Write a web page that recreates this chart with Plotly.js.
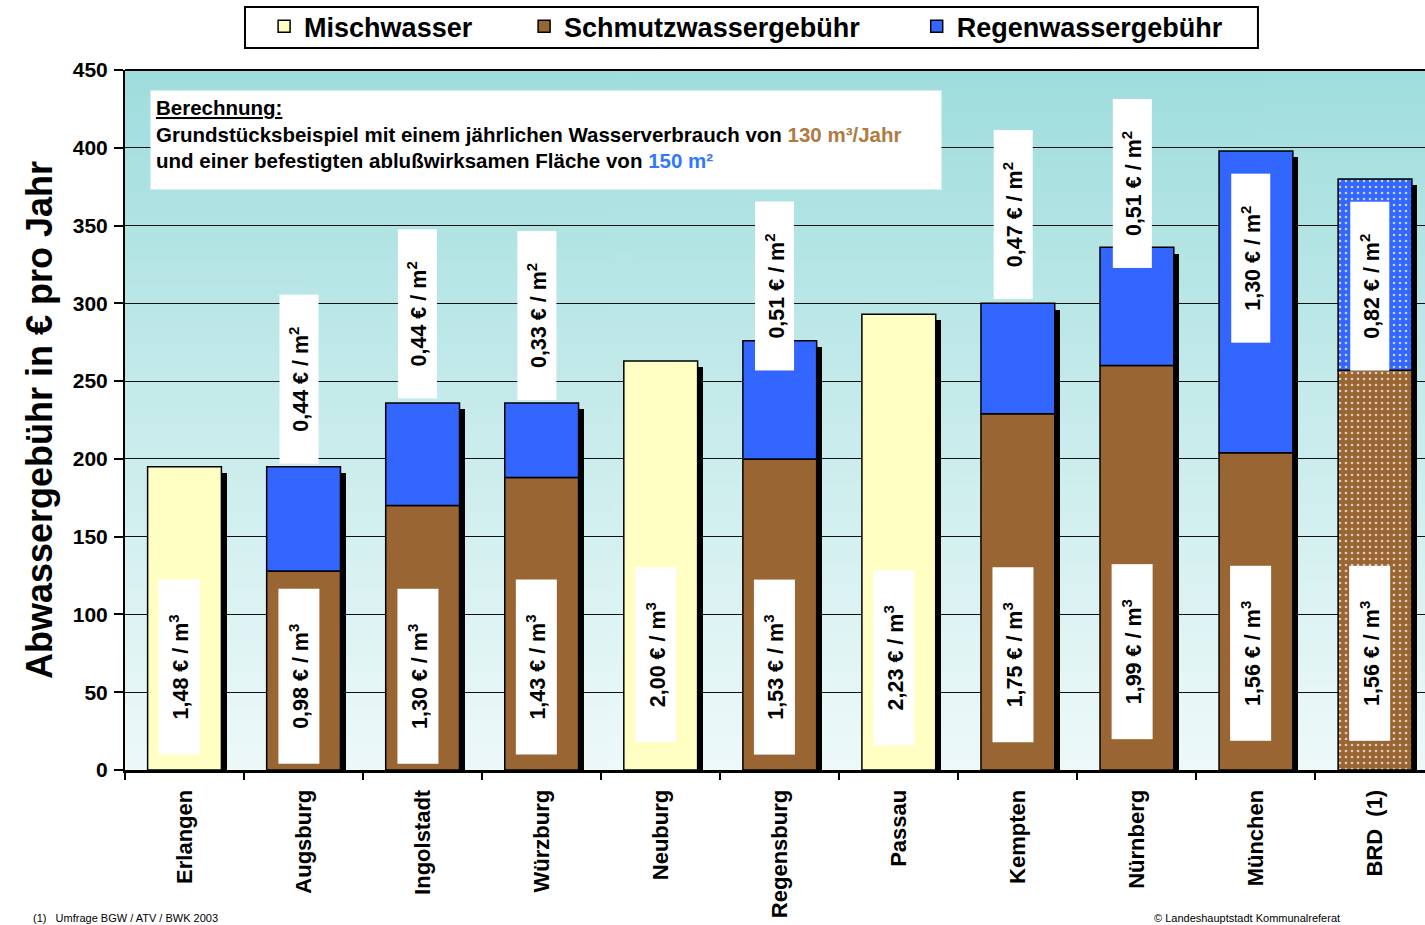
<!DOCTYPE html>
<html>
<head>
<meta charset="utf-8">
<script src="https://cdn.plot.ly/plotly-3.0.1.min.js"></script>
<style>html,body{margin:0;padding:0;background:#fff;}#chart{width:1425px;height:925px;}</style>
</head>
<body>
<div id="chart"></div>
<script>
// ---- data ----
const categories = ['Erlangen','Augsburg','Ingolstadt','Würzburg','Neuburg','Regensburg','Passau','Kempten','Nürnberg','München','BRD  (1)'];
const mischwasser   = [195, null, null, null, 263, null, 293, null, null, null, null];
const schmutzwasser = [null, 128, 170, 188, null, 200, null, 229, 260, 204, 257];
const regenwasser   = [null, 67, 66, 48, null, 76, null, 71, 76, 194, 123];
const priceM3 = ['1,48','0,98','1,30','1,43','2,00','1,53','2,23','1,75','1,99','1,56','1,56'];
const priceM2 = [null,'0,44','0,44','0,33',null,'0,51',null,'0,47','0,51','1,30','0,82'];
const seriesNames = ['Mischwasser','Schmutzwassergebühr','Regenwassergebühr'];

// ---- layout helpers (positions, not data) ----
const lowerLabelY = [66, 60, 60, 66, 74, 66, 72, 74, 76, 75, 75];
const upperLabelY = [null, 251, 293, 292, null, 311, null, 357, 377, 329, 311];
const patternShapes = categories.map((c, i) => i === categories.length - 1 ? '.' : '');

const FONT = 'Liberation Sans, Arial, sans-serif';
const BAR_W = 0.62, BAR_OFF = -0.31;

const totals = categories.map((c, i) => (mischwasser[i] || 0) + (schmutzwasser[i] || 0) + (regenwasser[i] || 0));

// gradient background image
const cv = document.createElement('canvas');
cv.width = 4; cv.height = 256;
const ctx = cv.getContext('2d');
const g = ctx.createLinearGradient(0, 0, 0, 256);
g.addColorStop(0, '#9fdddd');
g.addColorStop(0.45, '#c4eaea');
g.addColorStop(1, '#eef9f9');
ctx.fillStyle = g; ctx.fillRect(0, 0, 4, 256);
const bgURL = cv.toDataURL('image/png');

const outline = {color: '#000', width: 1.5};

const traces = [
  { // shadow
    type: 'bar', x: categories, y: totals.map(t => t - 4), base: 0,
    width: BAR_W, offset: BAR_OFF + 0.045,
    marker: {color: '#000', line: {width: 0}},
    showlegend: false, hoverinfo: 'skip'
  },
  {
    type: 'bar', name: seriesNames[0], x: categories, y: mischwasser,
    width: BAR_W, offset: BAR_OFF,
    marker: {color: '#ffffc4', line: outline},
    legend: 'legend'
  },
  {
    type: 'bar', name: seriesNames[1], x: categories, y: schmutzwasser,
    width: BAR_W, offset: BAR_OFF,
    marker: {color: '#996633', line: outline,
      pattern: {shape: patternShapes, fillmode: 'replace', bgcolor: '#996633',
        fgcolor: '#f0e6dc', fgopacity: 0.8, size: 6, solidity: 0.15}},
    legend: 'legend2'
  },
  {
    type: 'bar', name: seriesNames[2], x: categories, y: regenwasser,
    base: schmutzwasser.map(v => v || 0),
    width: BAR_W, offset: BAR_OFF,
    marker: {color: '#3366ff', line: outline,
      pattern: {shape: patternShapes, fillmode: 'replace', bgcolor: '#3366ff',
        fgcolor: '#e6ecff', fgopacity: 0.8, size: 6, solidity: 0.15}},
    legend: 'legend3'
  }
];

const labelFont = {family: FONT, size: 21.5, color: '#000', weight: 'bold'};
const annotations = [];
categories.forEach((c, i) => {
  annotations.push({
    x: c, y: lowerLabelY[i], xref: 'x', yref: 'y', xshift: -5,
    text: priceM3[i] + ' € / m<sup>3</sup>', showarrow: false, textangle: -90,
    bgcolor: '#fff', width: 172, height: 38, font: labelFont
  });
  if (priceM2[i]) {
    annotations.push({
      x: c, y: upperLabelY[i], xref: 'x', yref: 'y', xshift: -5,
      text: priceM2[i] + ' € / m<sup>2</sup>', showarrow: false, textangle: -90,
      bgcolor: '#fff', width: 166, height: 36, font: labelFont
    });
  }
});

annotations.push({
  xref: 'paper', yref: 'paper', x: 0.0192, y: 0.9714, xanchor: 'left', yanchor: 'top',
  showarrow: false, align: 'left', valign: 'top', bgcolor: '#fff',
  width: 780, height: 88, borderpad: 5,
  text: '<u>Berechnung:</u><br>Grundstücksbeispiel mit einem jährlichen Wasserverbrauch von <span style="color:#b07a40">130 m³/Jahr</span><br>und einer befestigten ablußwirksamen Fläche von <span style="color:#3377ff">150 m²</span>',
  font: {family: FONT, size: 20.5, color: '#000', weight: 'bold'}
});

// footnotes
annotations.push({
  xref: 'paper', yref: 'paper', x: -0.072, y: -0.2, xanchor: 'left', yanchor: 'top',
  showarrow: false, text: '(1)   Umfrage BGW / ATV / BWK 2003',
  font: {family: FONT, size: 11, color: '#000'}
});
annotations.push({
  xref: 'paper', yref: 'paper', x: 0.79, y: -0.2, xanchor: 'left', yanchor: 'top',
  showarrow: false, text: '© Landeshauptstadt Kommunalreferat',
  font: {family: FONT, size: 11, color: '#000'}
});

const legendFont = {family: FONT, size: 27, color: '#000', weight: 'bold'};
const legendBase = {orientation: 'h', xanchor: 'left', yanchor: 'top', y: 1.097,
  bgcolor: 'rgba(0,0,0,0)', borderwidth: 0, font: legendFont, itemwidth: 30};

const layout = {
  width: 1425, height: 925,
  margin: {l: 125, r: 0, t: 70, b: 155},
  paper_bgcolor: '#fff', plot_bgcolor: 'rgba(0,0,0,0)',
  barmode: 'overlay',
  showlegend: true,
  legend:  Object.assign({}, legendBase, {x: 0.107}),
  legend2: Object.assign({}, legendBase, {x: 0.307}),
  legend3: Object.assign({}, legendBase, {x: 0.609}),
  xaxis: {
    type: 'category', range: [-0.5, 10.42],
    tickson: 'boundaries', ticks: 'outside', ticklen: 7, tickwidth: 2, tickcolor: '#000',
    showline: true, linecolor: '#000', linewidth: 3,
    showgrid: false, tickangle: -90, ticklabelstandoff: 8,
    tickfont: {family: FONT, size: 22, color: '#000', weight: 'bold'}
  },
  yaxis: {
    range: [0, 450], tick0: 0, dtick: 50,
    ticks: 'outside', ticklen: 9, tickwidth: 2, tickcolor: '#000',
    showline: true, linecolor: '#000', linewidth: 2,
    showgrid: true, gridcolor: '#111', gridwidth: 1, zeroline: false,
    ticklabelstandoff: 2,
    tickfont: {family: FONT, size: 21, color: '#000', weight: 'bold'},
    title: {text: 'Abwassergebühr in € pro Jahr', standoff: 9,
      font: {family: FONT, size: 36, color: '#000', weight: 'bold'}}
  },
  images: [{source: bgURL, xref: 'paper', yref: 'paper', x: 0, y: 1, sizex: 1, sizey: 1,
    xanchor: 'left', yanchor: 'top', sizing: 'stretch', layer: 'below'}],
  shapes: [{type: 'rect', xref: 'paper', yref: 'paper', x0: 0.0923, x1: 0.8715, y0: 1.0314, y1: 1.09,
    line: {color: '#000', width: 2}, fillcolor: '#fff', layer: 'below'},
    {type: 'line', xref: 'paper', yref: 'paper', x0: 0, x1: 1, y0: 1, y1: 1, line: {color: '#000', width: 2}}],
  annotations: annotations,
  bargap: 0
};

Plotly.newPlot('chart', traces, layout, {displayModeBar: false, staticPlot: true});
</script>
</body>
</html>
